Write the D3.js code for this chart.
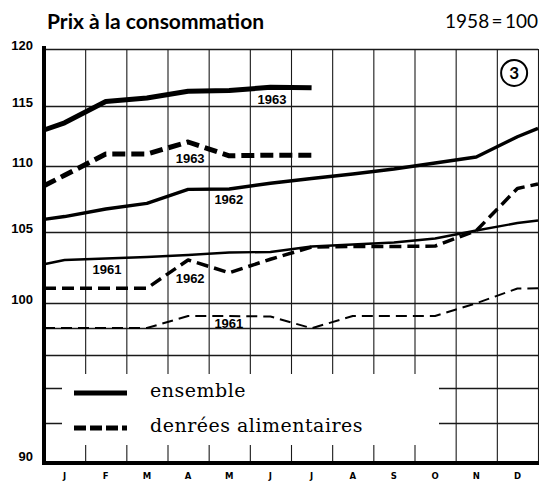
<!DOCTYPE html>
<html>
<head>
<meta charset="utf-8">
<script src="https://cdn.jsdelivr.net/npm/d3@7"></script>
<style>
  body { margin: 0; background: #fff; }
  svg { display: block; }
</style>
</head>
<body>
<script>
var months = ["J","F","M","A","M","J","J","A","S","O","N","D"];
// x positions in months: left edge, month centres, right edge
var positions = [0, 0.5, 1.5, 2.5, 3.5, 4.5, 5.5, 6.5, 7.5, 8.5, 9.5, 10.5, 11.5, 12];

var ensemble1961 = [102.73, 103.03, 103.13, 103.24, 103.38, 103.56, 103.59, 103.98, 104.12, 104.26, 104.54, 105.11, 105.68, 105.87];
var ensemble1962 = [105.96, 106.17, 106.74, 107.17, 108.23, 108.26, 108.69, 109.05, 109.39, 109.77, 110.25, 110.75, 112.44, 113.14];
var ensemble1963 = [113.0, 113.6, 115.4, 115.7, 116.3, 116.35, 116.65, 116.6];
var food1961 = [98.0, 98.0, 98.0, 98.0, 98.96, 98.96, 98.92, 97.98, 98.96, 98.96, 98.96, 99.98, 101.02, 101.03];
var food1962 = [101.04, 101.04, 101.04, 101.04, 103.03, 102.13, 103.08, 103.94, 103.98, 103.98, 104.01, 105.1, 108.3, 108.64];
var food1963 = [108.5, 109.3, 111.0, 111.0, 112.0, 110.85, 110.9, 110.9];

var labelTicks = [90, 100, 105, 110, 115, 120];
var gridTicks = [90, 92, 94, 96, 98, 100, 105, 110, 115, 120];

var yearLabels = [
  {text: "1963", pos: 5.54, value: 115.2},
  {text: "1963", pos: 3.55, value: 110.25},
  {text: "1962", pos: 4.49, value: 107.1},
  {text: "1961", pos: 1.53, value: 102.05},
  {text: "1962", pos: 3.55, value: 101.4},
  {text: "1961", pos: 4.49, value: 98.0}
];

var WIDTH = 539, HEIGHT = 481;
var LEFT = 44, RIGHT = 538, TOP = 49, BOTTOM = 463;

var translate = function (x, y) { return "translate(" + x + "," + y + ")"; };

var svg = d3.select('body').append('svg')
  .attr('width', WIDTH)
  .attr('height', HEIGHT);

var x = d3.scaleLinear().domain([0, 12]).range([LEFT, RIGHT]);
var xBand = d3.scaleBand().domain(d3.range(12)).range([LEFT, RIGHT]);
// the printed scale is not evenly spaced, so map each grid value
var y = d3.scaleLinear()
  .domain(gridTicks)
  .range([463, 423, 388, 355, 328, 303, 232, 166, 106, 49]);

// horizontal grid
var hGrid = svg.append('g')
  .attr('transform', translate(LEFT, 0))
  .call(d3.axisLeft(y).tickValues(gridTicks).tickSize(-(RIGHT - LEFT)).tickFormat(''));
hGrid.select('.domain').remove();
hGrid.selectAll('line').attr('stroke', '#1a1a1a').attr('stroke-width', 1.5);

// vertical grid
var vGrid = svg.append('g')
  .attr('transform', translate(0, BOTTOM))
  .call(d3.axisBottom(x).tickValues(d3.range(13)).tickSize(-(BOTTOM - TOP)).tickFormat(''));
vGrid.select('.domain').remove();
vGrid.selectAll('line').attr('stroke', '#1a1a1a').attr('stroke-width', 1.1);

// legend area is left blank
svg.append('rect')
  .attr('x', 62).attr('y', 374)
  .attr('width', 377).attr('height', 71)
  .attr('fill', '#fff');

// heavy axes
svg.append('line')
  .attr('x1', LEFT).attr('x2', LEFT)
  .attr('y1', TOP - 3).attr('y2', BOTTOM + 2)
  .attr('stroke', '#000').attr('stroke-width', 4);
svg.append('line')
  .attr('x1', LEFT - 2).attr('x2', RIGHT + 1)
  .attr('y1', BOTTOM).attr('y2', BOTTOM)
  .attr('stroke', '#000').attr('stroke-width', 4);

// y labels
var yAxis = svg.append('g')
  .attr('transform', translate(LEFT, 0))
  .call(d3.axisLeft(y).tickValues(labelTicks).tickSize(0).tickPadding(11));
yAxis.select('.domain').remove();
yAxis.selectAll('text')
  .attr('dy', function (d) { return d === 90 ? '-0.2em' : '0.05em'; })
  .attr('fill', '#000')
  .style('font-family', '"Liberation Sans", Arial, sans-serif')
  .style('font-weight', 'bold')
  .style('font-size', '13px');

// month labels
var xAxis = svg.append('g')
  .attr('transform', translate(0, BOTTOM))
  .call(d3.axisBottom(xBand).tickSize(0).tickPadding(10).tickFormat(function (i) { return months[i]; }));
xAxis.select('.domain').remove();
xAxis.selectAll('text')
  .attr('fill', '#000')
  .style('font-family', '"DejaVu Sans", sans-serif')
  .style('font-weight', 'bold')
  .style('font-size', '8.5px');

var series = [
  {values: food1961, width: 2, dash: '11,6'},
  {values: food1962, width: 3.5, dash: '12,6'},
  {values: food1963, width: 5, dash: '13,6'},
  {values: ensemble1961, width: 2.4, dash: null},
  {values: ensemble1962, width: 3.4, dash: null},
  {values: ensemble1963, width: 5, dash: null}
];

var line = d3.line()
  .x(function (d) { return x(d[0]); })
  .y(function (d) { return y(d[1]); });

for (var s of series) {
  var pts = s.values.map(function (v, i) { return [positions[i], v]; });
  svg.append('path')
    .attr('d', line(pts))
    .attr('fill', 'none')
    .attr('stroke', '#000')
    .attr('stroke-width', s.width)
    .attr('stroke-linejoin', 'round')
    .attr('stroke-dasharray', s.dash);
}

svg.append('g').selectAll('text')
  .data(yearLabels)
  .enter()
  .append('text')
  .attr('x', function (d) { return x(d.pos); })
  .attr('y', function (d) { return y(d.value); })
  .attr('text-anchor', 'middle')
  .style('font-family', '"Liberation Sans", Arial, sans-serif')
  .style('font-weight', 'bold')
  .style('font-size', '13px')
  .text(function (d) { return d.text; });

// title and base
svg.append('text')
  .attr('x', 47).attr('y', 29)
  .style('font-family', 'Lato, sans-serif')
  .style('font-weight', 'bold')
  .style('font-size', '21px')
  .text('Prix à la consommation');

svg.append('text')
  .attr('x', RIGHT).attr('y', 28)
  .attr('text-anchor', 'end')
  .style('font-family', 'Lato, sans-serif')
  .style('font-size', '19px')
  .text('1958\u2009=\u2009100');

// chart number
var badge = svg.append('g').attr('transform', translate(x(11.42), y(117.9)));
badge.append('circle')
  .attr('r', 13)
  .attr('fill', '#fff')
  .attr('stroke', '#000')
  .attr('stroke-width', 2);
badge.append('text')
  .attr('y', 6)
  .attr('text-anchor', 'middle')
  .style('font-family', 'Lato, sans-serif')
  .style('font-weight', 'bold')
  .style('font-size', '17px')
  .text('3');

// legend
var legendItems = [
  {label: 'ensemble', dash: null, y: 393},
  {label: 'denrées alimentaires', dash: '12,4', y: 428}
];
var legend = svg.append('g');
legend.selectAll('line')
  .data(legendItems)
  .enter()
  .append('line')
  .attr('x1', 74).attr('x2', 127)
  .attr('y1', function (d) { return d.y; })
  .attr('y2', function (d) { return d.y; })
  .attr('stroke', '#000')
  .attr('stroke-width', 5)
  .attr('stroke-dasharray', function (d) { return d.dash; });
legend.selectAll('text')
  .data(legendItems)
  .enter()
  .append('text')
  .attr('x', 150)
  .attr('y', function (d) { return d.y + 4; })
  .style('font-family', '"DejaVu Serif", serif')
  .style('font-size', '19px')
  .style('letter-spacing', '0.5px')
  .text(function (d) { return d.label; });
</script>
</body>
</html>
